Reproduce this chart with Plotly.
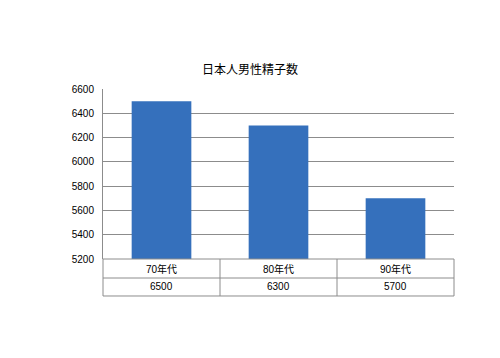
import plotly.graph_objects as go

categories = ["70年代", "80年代", "90年代"]
values = [6500, 6300, 5700]
title_text = "日本人男性精子数"
y_ticks = [5200, 5400, 5600, 5800, 6000, 6200, 6400, 6600]

FONT = "Liberation Sans, Arial, Noto Sans CJK JP"
GRID = "#8c8c8c"

fig = go.Figure()
fig.add_trace(go.Bar(
    x=categories, y=values, width=0.51,
    marker=dict(color="#3570bc", line=dict(width=0)),
))

# table geometry in paper coords
r1 = -0.1118
r2 = -0.2176
shapes = []
for yy in [0, r1, r2]:
    shapes.append(dict(type="line", xref="paper", yref="paper", x0=0, x1=1, y0=yy, y1=yy,
                       line=dict(color=GRID, width=1)))
n = len(categories)
for i in range(n + 1):
    shapes.append(dict(type="line", xref="paper", yref="paper", x0=i / n, x1=i / n, y0=r2, y1=0,
                       line=dict(color=GRID, width=1)))

annotations = []
for i, (c, v) in enumerate(zip(categories, values)):
    annotations.append(dict(xref="paper", yref="paper", x=(i + 0.5) / n, y=r1 / 2, text=c,
                            xanchor="center", yanchor="middle",
                            showarrow=False, font=dict(size=10, color="black", family=FONT)))
    annotations.append(dict(xref="paper", yref="paper", x=(i + 0.5) / n, y=(r1 + r2) / 2, text=str(v),
                            xanchor="center", yanchor="middle",
                            showarrow=False, font=dict(size=10, color="black", family=FONT)))

fig.update_layout(
    width=500, height=358,
    margin=dict(l=95, r=54, t=81, b=107),
    paper_bgcolor="white", plot_bgcolor="white",
    showlegend=False,
    title=dict(text=title_text, x=242 / 500, xanchor="center", xref="container",
               y=(358 - 62) / 358, yanchor="middle",
               font=dict(size=12, color="black", family=FONT)),
    xaxis=dict(showticklabels=False, showgrid=False, showline=False, zeroline=False, ticks=""),
    yaxis=dict(range=[5200, 6600], tickvals=y_ticks, showgrid=True, gridcolor=GRID, gridwidth=1,
               showline=True, linecolor=GRID, linewidth=1, zeroline=False, ticks="",
               tickfont=dict(size=10, color="black", family=FONT), ticklabelstandoff=6),
    shapes=shapes, annotations=annotations,
    bargap=0.49,
)

fig.write_html("out.html")
